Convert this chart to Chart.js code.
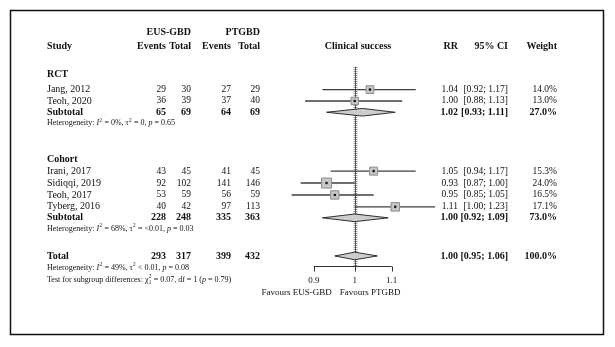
<!DOCTYPE html>
<html>
<head>
<meta charset="utf-8">
<script src="https://cdn.jsdelivr.net/npm/chart.js@4.4.1/dist/chart.umd.min.js"></script>
<style>
  html, body { margin: 0; padding: 0; background: #fff; }
</style>
</head>
<body>
<canvas id="forest" width="615" height="347"></canvas>
<script>
// study level data (row = vertical slot in the table)
const studies   = ['Jang, 2012', 'Teoh, 2020', 'Irani, 2017', 'Sidiqqi, 2019', 'Teoh, 2017', 'Tyberg, 2016'];
const studyRows = [-0.2, 0.75, 6.64, 7.64, 8.64, 9.64];
const eusEvents = [29, 36, 43, 92, 53, 40];
const eusTotal  = [30, 39, 45, 102, 59, 42];
const ptEvents  = [27, 37, 41, 141, 56, 97];
const ptTotal   = [29, 40, 45, 146, 59, 113];
const rr        = [1.04, 1.00, 1.05, 0.93, 0.95, 1.11];
const ciLow     = [0.92, 0.88, 0.94, 0.87, 0.85, 1.00];
const ciHigh    = [1.17, 1.13, 1.17, 1.00, 1.05, 1.23];
const weights   = [14.0, 13.0, 15.3, 24.0, 16.5, 17.1];

// pooled estimates
const pooledLabels    = ['Subtotal', 'Subtotal', 'Total'];
const pooledRows      = [1.7, 10.56, 13.76];
const pooledEusEvents = [65, 228, 293];
const pooledEusTotal  = [69, 248, 317];
const pooledPtEvents  = [64, 335, 399];
const pooledPtTotal   = [69, 363, 432];
const pooledRR        = [1.02, 1.00, 1.00];
const pooledLow       = [0.93, 0.92, 0.95];
const pooledHigh      = [1.11, 1.09, 1.06];
const pooledWeight    = [27.0, 73.0, 100.0];

const groupLabels = ['RCT', 'Cohort'];
const groupRows   = [-1.5, 5.64];

const hetRows  = [2.62, 11.48, 14.76];
const hetTexts = [
  [['Heterogeneity: ', ''], ['I', 'i'], ['2', 'sup'], [' = 0%, ', ''], ['\u03c4', ''], ['2', 'sup'], [' = 0, ', ''], ['p', 'i'], [' = 0.65', '']],
  [['Heterogeneity: ', ''], ['I', 'i'], ['2', 'sup'], [' = 68%, ', ''], ['\u03c4', ''], ['2', 'sup'], [' = <0.01, ', ''], ['p', 'i'], [' = 0.03', '']],
  [['Heterogeneity: ', ''], ['I', 'i'], ['2', 'sup'], [' = 49%, ', ''], ['\u03c4', ''], ['2', 'sup'], [' < 0.01, ', ''], ['p', 'i'], [' = 0.08', '']]
];
const testRow  = 15.76;
const testText = [['Test for subgroup differences: ', ''], ['\u03c7', ''], ['2', 'supsub1'], [' = 0.07, df = 1 (', ''], ['p', 'i'], [' = 0.79)', '']];

const xTicks = [0.9, 1, 1.1];
const leftLabel = 'Favours EUS-GBD';
const rightLabel = 'Favours PTGBD';

// layout
const W = 615, H = 347;
const row0 = 88, rowH = 12.5;
const xOne = 356, pxPerDecade = 918;
const FONT = '"Liberation Serif", "DejaVu Serif", serif';
const INK = '#111';
const col = { study: 47, ee: 166, et: 191, pe: 231, pt: 260, rr: 458, ci: 508, w: 557, plot: 358 };
const diamondHalf = 0.32;
const hdrRow = -3.85, groupHdrRow = -5.0;
const axisRow = 14.64, tickLabelRow = 15.8, favourRow = 16.85, nullTopRow = -2.1;

const fmt2 = v => v.toFixed(2);
const fmtCI = (a, b) => '[' + fmt2(a) + '; ' + fmt2(b) + ']';
const fmtW = v => v.toFixed(1) + '%';

const datasets = [];
studies.forEach((s, i) => {
  datasets.push({
    type: 'line',
    data: [{ x: ciLow[i], y: studyRows[i] }, { x: ciHigh[i], y: studyRows[i] }],
    borderColor: '#3f3f3f', borderWidth: 1.4, pointRadius: 0, fill: false, order: 4
  });
});
const points = studies.map((s, i) => ({ x: rr[i], y: studyRows[i] }));
datasets.push({
  type: 'scatter', data: points, pointStyle: 'rect',
  pointRadius: weights.map(w => 1.45 * Math.sqrt(w)),
  backgroundColor: '#c6c6c6', borderColor: '#8c8c8c', borderWidth: 1, order: 3
});
datasets.push({
  type: 'scatter', data: points, pointStyle: 'circle', pointRadius: 1.3,
  backgroundColor: '#111', borderWidth: 0, order: 2
});
pooledRows.forEach((r, i) => {
  datasets.push({
    type: 'line',
    data: [
      { x: pooledLow[i], y: r }, { x: pooledRR[i], y: r - diamondHalf },
      { x: pooledHigh[i], y: r }, { x: pooledRR[i], y: r + diamondHalf },
      { x: pooledLow[i], y: r }
    ],
    borderColor: '#2e2e2e', borderWidth: 1, backgroundColor: '#cdcdcd',
    fill: 'shape', pointRadius: 0, tension: 0, order: 1
  });
});

function text(ctx, str, x, y, align, bold, size) {
  ctx.font = (bold ? 'bold ' : '') + size + 'px ' + FONT;
  ctx.textAlign = align;
  ctx.textBaseline = 'middle';
  ctx.fillStyle = INK;
  ctx.fillText(str, x, y);
}

function richText(ctx, parts, x, y, size) {
  let cx = x;
  ctx.textAlign = 'left';
  ctx.textBaseline = 'middle';
  ctx.fillStyle = INK;
  parts.forEach(([s, st]) => {
    if (st === 'sup' || st === 'supsub1') {
      ctx.font = (size * 0.65) + 'px ' + FONT;
      ctx.fillText(s, cx + 0.3, y - size * 0.38);
      let w = ctx.measureText(s).width;
      if (st === 'supsub1') {
        ctx.fillText('1', cx + 0.3, y + size * 0.3);
        w = Math.max(w, ctx.measureText('1').width);
      }
      cx += w + 0.6;
    } else {
      ctx.font = (st === 'i' ? 'italic ' : '') + size + 'px ' + FONT;
      ctx.fillText(s, cx, y);
      cx += ctx.measureText(s).width;
    }
  });
}

const nullLine = {
  id: 'nullLine',
  beforeDatasetsDraw(chart) {
    const { ctx, scales: { x, y } } = chart;
    const px = Math.round(x.getPixelForValue(1)) + 0.5;
    const top = y.getPixelForValue(nullTopRow), bot = y.getPixelForValue(axisRow);
    ctx.save();
    ctx.strokeStyle = '#9a9a9a';
    ctx.lineWidth = 1;
    for (let yy = Math.round(top); yy < bot; yy += 2) {
      ctx.beginPath();
      ctx.moveTo(px - 2, yy + 0.5);
      ctx.lineTo(px + 2, yy + 0.5);
      ctx.stroke();
    }
    ctx.strokeStyle = '#555';
    ctx.beginPath();
    ctx.moveTo(px, top);
    ctx.lineTo(px, bot);
    ctx.stroke();
    ctx.restore();
  }
};

const tableAndAxis = {
  id: 'tableAndAxis',
  afterDraw(chart) {
    const { ctx, scales: { x, y } } = chart;
    const Y = r => y.getPixelForValue(r);
    ctx.save();

    // axis
    const ay = Math.round(Y(axisRow)) + 0.5;
    ctx.strokeStyle = '#333';
    ctx.lineWidth = 1;
    ctx.beginPath();
    ctx.moveTo(x.getPixelForValue(xTicks[0]), ay);
    ctx.lineTo(x.getPixelForValue(xTicks[xTicks.length - 1]), ay);
    xTicks.forEach(t => {
      const tx = Math.round(x.getPixelForValue(t)) + 0.5;
      ctx.moveTo(tx, ay);
      ctx.lineTo(tx, ay + 5);
    });
    ctx.stroke();
    xTicks.forEach(t => text(ctx, String(t), x.getPixelForValue(t), Y(tickLabelRow), 'center', false, 9));
    text(ctx, leftLabel, x.getPixelForValue(1) - 23, Y(favourRow), 'right', false, 9);
    text(ctx, rightLabel, x.getPixelForValue(1) - 15, Y(favourRow), 'left', false, 9);

    // headers
    text(ctx, 'EUS-GBD', col.et, Y(groupHdrRow), 'right', true, 10);
    text(ctx, 'PTGBD', col.pt, Y(groupHdrRow), 'right', true, 10);
    text(ctx, 'Study', col.study, Y(hdrRow), 'left', true, 10);
    text(ctx, 'Events', col.ee, Y(hdrRow), 'right', true, 10);
    text(ctx, 'Total', col.et, Y(hdrRow), 'right', true, 10);
    text(ctx, 'Events', col.pe, Y(hdrRow), 'right', true, 10);
    text(ctx, 'Total', col.pt, Y(hdrRow), 'right', true, 10);
    text(ctx, 'Clinical success', col.plot, Y(hdrRow), 'center', true, 10);
    text(ctx, 'RR', col.rr, Y(hdrRow), 'right', true, 10);
    text(ctx, '95% CI', col.ci, Y(hdrRow), 'right', true, 10);
    text(ctx, 'Weight', col.w, Y(hdrRow), 'right', true, 10);

    groupLabels.forEach((g, i) => text(ctx, g, col.study, Y(groupRows[i]), 'left', true, 10));

    studies.forEach((s, i) => {
      const yy = Y(studyRows[i]);
      text(ctx, s, col.study, yy, 'left', false, 10);
      text(ctx, String(eusEvents[i]), col.ee, yy, 'right', false, 9.5);
      text(ctx, String(eusTotal[i]), col.et, yy, 'right', false, 9.5);
      text(ctx, String(ptEvents[i]), col.pe, yy, 'right', false, 9.5);
      text(ctx, String(ptTotal[i]), col.pt, yy, 'right', false, 9.5);
      text(ctx, fmt2(rr[i]), col.rr, yy, 'right', false, 9.5);
      text(ctx, fmtCI(ciLow[i], ciHigh[i]), col.ci, yy, 'right', false, 9.5);
      text(ctx, fmtW(weights[i]), col.w, yy, 'right', false, 9.5);
    });

    pooledRows.forEach((r, i) => {
      const yy = Y(r);
      text(ctx, pooledLabels[i], col.study, yy, 'left', true, 10);
      text(ctx, String(pooledEusEvents[i]), col.ee, yy, 'right', true, 10);
      text(ctx, String(pooledEusTotal[i]), col.et, yy, 'right', true, 10);
      text(ctx, String(pooledPtEvents[i]), col.pe, yy, 'right', true, 10);
      text(ctx, String(pooledPtTotal[i]), col.pt, yy, 'right', true, 10);
      text(ctx, fmt2(pooledRR[i]), col.rr, yy, 'right', true, 10);
      text(ctx, fmtCI(pooledLow[i], pooledHigh[i]), col.ci, yy, 'right', true, 10);
      text(ctx, fmtW(pooledWeight[i]), col.w, yy, 'right', true, 10);
    });

    hetRows.forEach((r, i) => richText(ctx, hetTexts[i], col.study, Y(r), 8));
    richText(ctx, testText, col.study, Y(testRow), 8);

    // frame
    ctx.strokeStyle = '#111';
    ctx.lineWidth = 1.5;
    ctx.strokeRect(10.5, 10.5, 593, 324);
    ctx.restore();
  }
};

new Chart(document.getElementById('forest'), {
  type: 'scatter',
  data: { datasets },
  options: {
    responsive: false,
    animation: false,
    events: [],
    layout: { padding: 0 },
    scales: {
      x: {
        type: 'logarithmic', display: false, bounds: 'data',
        min: Math.pow(10, -xOne / pxPerDecade),
        max: Math.pow(10, (W - xOne) / pxPerDecade)
      },
      y: {
        type: 'linear', display: false, reverse: true,
        min: -row0 / rowH, max: (H - row0) / rowH
      }
    },
    plugins: { legend: { display: false }, tooltip: { enabled: false } }
  },
  plugins: [nullLine, tableAndAxis]
});
</script>
</body>
</html>
